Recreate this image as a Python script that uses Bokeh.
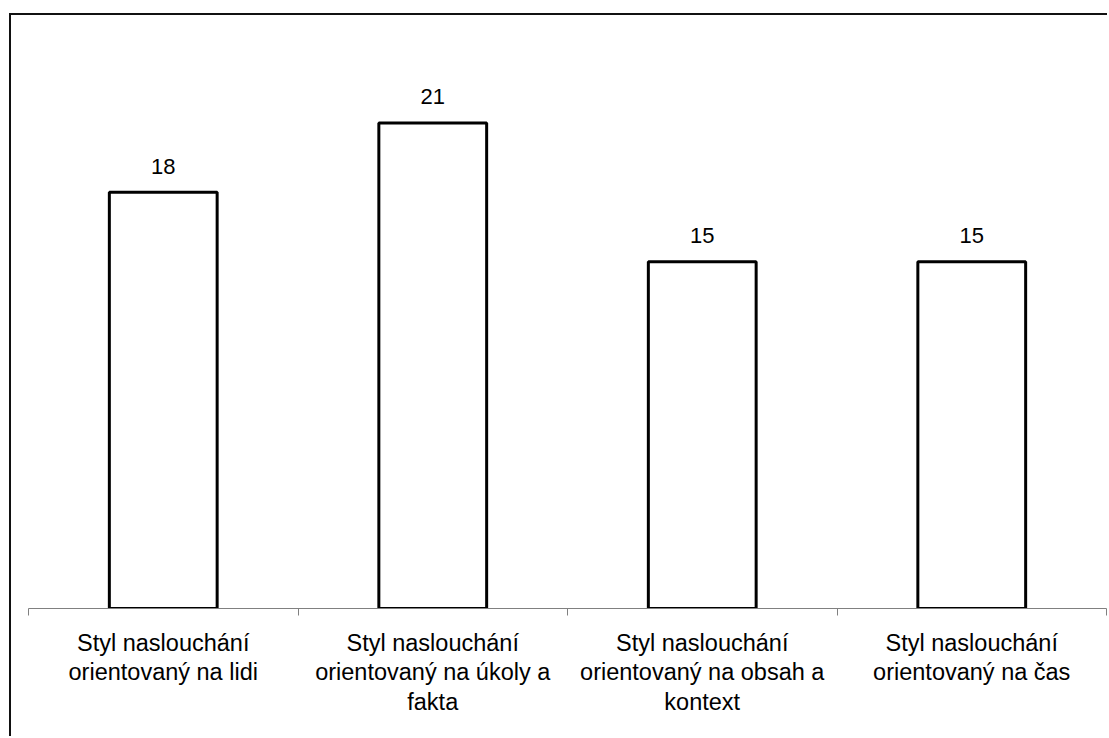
from bokeh.plotting import figure
from bokeh.models import FixedTicker, Range1d
from bokeh.core.properties import value
from bokeh.embed import file_html
from bokeh.resources import INLINE

# Listening styles and how many respondents fall into each
categories = [
    "Styl naslouchání\norientovaný na lidi",
    "Styl naslouchání\norientovaný na úkoly a\nfakta",
    "Styl naslouchání\norientovaný na obsah a\nkontext",
    "Styl naslouchání\norientovaný na čas",
]
counts = [18, 21, 15, 15]

# category slots on a numeric axis: centres carry the labels, edges carry the tick marks
centres = [i + 0.5 for i in range(len(categories))]
edges = list(range(len(categories) + 1))

FONT = "Liberation Sans"

p = figure(
    width=1098, height=723,
    output_backend="svg", toolbar_location=None,
    x_range=Range1d(0, len(categories)), y_range=Range1d(0, 25),
    y_axis_location=None,
    min_border_left=17, min_border_right=3,
    min_border_top=15, min_border_bottom=130,
)
# chart-area border: only its top and left edges fall inside the page
p.styles = {
    "margin-left": "9px",
    "margin-top": "13px",
    "border-top": "2px solid #111111",
    "border-left": "2px solid #111111",
}
p.outline_line_color = None
p.xgrid.visible = False
p.ygrid.visible = False
p.background_fill_color = "white"
p.border_fill_color = "white"

ax = p.xaxis[0]
ax.ticker = FixedTicker(ticks=centres, minor_ticks=edges)
ax.major_label_overrides = {c: lab for c, lab in zip(centres, categories)}
ax.axis_line_color = "#808080"
ax.axis_line_width = 1
ax.major_tick_line_color = None
ax.major_tick_out = 0
ax.major_tick_in = 0
ax.minor_tick_line_color = "#808080"
ax.minor_tick_out = 7
ax.minor_tick_in = 0
ax.major_label_standoff = 14
ax.major_label_text_font = FONT
ax.major_label_text_font_size = "23.5px"
ax.major_label_text_color = "black"
ax.major_label_text_line_height = 1.14

p.vbar(x=centres, top=counts, width=0.4, bottom=0,
       fill_color="white", line_color="black", line_width=3)

p.text(x=centres, y=counts, text=[str(c) for c in counts],
       text_align="center", text_baseline="alphabetic", y_offset=-26,
       text_font=value(FONT), text_font_size="22px", text_color="black")

open("out.html", "w").write(file_html(p, INLINE))
